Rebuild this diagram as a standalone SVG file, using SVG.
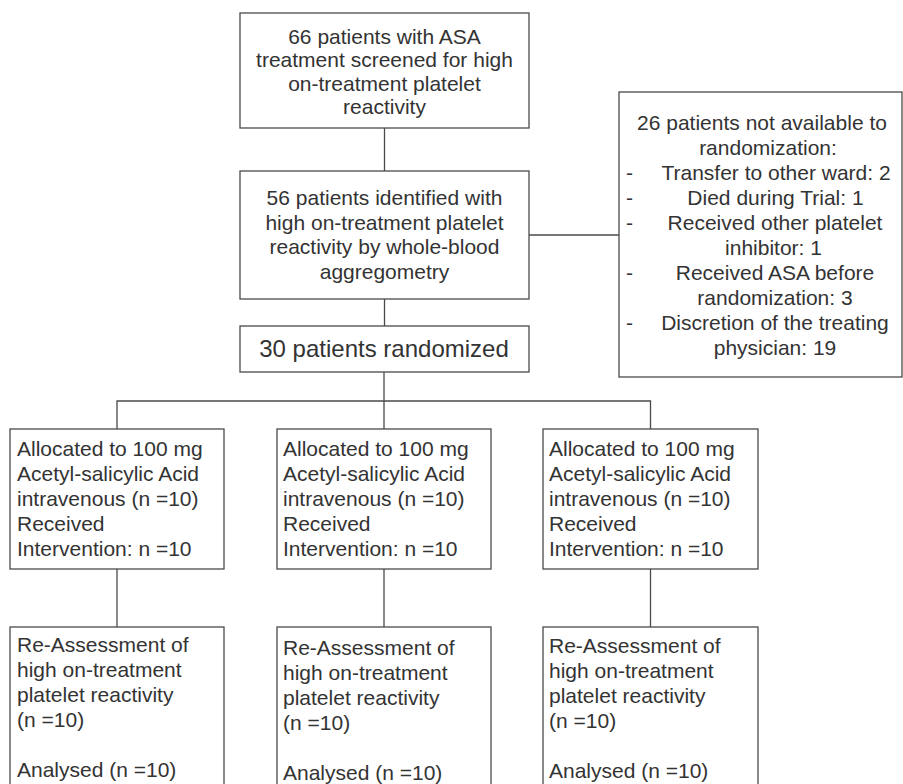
<svg xmlns="http://www.w3.org/2000/svg" width="903" height="784" viewBox="0 0 903 784">
<style>
  .box { fill: #ffffff; stroke: #4a4a4a; stroke-width: 1.3; }
  .ln { fill: none; stroke: #4a4a4a; stroke-width: 1.3; }
  text { font-family: "Liberation Sans", Arial, sans-serif; font-size: 21px; fill: #333333; }
  .c { text-anchor: middle; }
  .big { font-size: 24px; }
</style>
<rect width="903" height="784" fill="#ffffff"/>
<g id="connectors">
  <line class="ln" x1="384.5" y1="128" x2="384.5" y2="171"/>
  <line class="ln" x1="384.5" y1="299" x2="384.5" y2="326"/>
  <line class="ln" x1="529" y1="235" x2="619" y2="235"/>
  <line class="ln" x1="384" y1="372" x2="384" y2="429"/>
  <polyline class="ln" points="117,429 117,401 650.5,401 650.5,429"/>
  <line class="ln" x1="117" y1="569" x2="117" y2="627"/>
  <line class="ln" x1="384" y1="569" x2="384" y2="627"/>
  <line class="ln" x1="650.5" y1="569" x2="650.5" y2="627"/>
</g>
<g id="screened">
  <rect class="box" x="240" y="13" width="289" height="115"/>
  <text class="c" x="384.5" y="43.5">66 patients with ASA</text>
  <text class="c" x="384.5" y="67">treatment screened for high</text>
  <text class="c" x="384.5" y="90.7">on-treatment platelet</text>
  <text class="c" x="384.5" y="114.3">reactivity</text>
</g>
<g id="identified">
  <rect class="box" x="240" y="171" width="289" height="128"/>
  <text class="c" x="384.5" y="205">56 patients identified with</text>
  <text class="c" x="384.5" y="229.5">high on-treatment platelet</text>
  <text class="c" x="384.5" y="254">reactivity by whole-blood</text>
  <text class="c" x="384.5" y="278.5">aggregometry</text>
</g>
<g id="randomized">
  <rect class="box" x="240" y="326" width="289" height="46"/>
  <text class="c big" x="384" y="357">30 patients randomized</text>
</g>
<g id="excluded">
  <rect class="box" x="619" y="92" width="283" height="285"/>
  <text class="c" x="762" y="130">26 patients not available to</text>
  <text class="c" x="768" y="155">randomization:</text>
  <text x="626" y="180">-</text>
  <text class="c" x="776" y="180">Transfer to other ward: 2</text>
  <text x="626" y="205">-</text>
  <text class="c" x="775.5" y="205">Died during Trial: 1</text>
  <text x="626" y="230">-</text>
  <text class="c" x="775" y="230">Received other platelet</text>
  <text class="c" x="773.5" y="255">inhibitor: 1</text>
  <text x="626" y="280">-</text>
  <text class="c" x="775" y="280">Received ASA before</text>
  <text class="c" x="775" y="305">randomization: 3</text>
  <text x="626" y="330">-</text>
  <text class="c" x="775" y="330">Discretion of the treating</text>
  <text class="c" x="775" y="355">physician: 19</text>
</g>
<g id="alloc1">
  <rect class="box" x="10" y="429" width="214" height="140"/>
  <text x="17" y="455.7">Allocated to 100 mg</text>
  <text x="17" y="480.7">Acetyl-salicylic Acid</text>
  <text x="17" y="505.7">intravenous (n =10)</text>
  <text x="17" y="530.7">Received</text>
  <text x="17" y="555.7">Intervention: n =10</text>
</g>
<g id="alloc2">
  <rect class="box" x="277" y="429" width="214" height="140"/>
  <text x="283" y="455.7">Allocated to 100 mg</text>
  <text x="283" y="480.7">Acetyl-salicylic Acid</text>
  <text x="283" y="505.7">intravenous (n =10)</text>
  <text x="283" y="530.7">Received</text>
  <text x="283" y="555.7">Intervention: n =10</text>
</g>
<g id="alloc3">
  <rect class="box" x="543" y="429" width="215" height="140"/>
  <text x="549" y="455.7">Allocated to 100 mg</text>
  <text x="549" y="480.7">Acetyl-salicylic Acid</text>
  <text x="549" y="505.7">intravenous (n =10)</text>
  <text x="549" y="530.7">Received</text>
  <text x="549" y="555.7">Intervention: n =10</text>
</g>
<g id="assess1">
  <rect class="box" x="10" y="627" width="214" height="180"/>
  <text x="17" y="652">Re-Assessment of</text>
  <text x="17" y="677">high on-treatment</text>
  <text x="17" y="702">platelet reactivity</text>
  <text x="17" y="727">(n =10)</text>
  <text x="17" y="777">Analysed (n =10)</text>
</g>
<g id="assess2">
  <rect class="box" x="277" y="627" width="214" height="180"/>
  <text x="283" y="655">Re-Assessment of</text>
  <text x="283" y="680">high on-treatment</text>
  <text x="283" y="705">platelet reactivity</text>
  <text x="283" y="730">(n =10)</text>
  <text x="283" y="780">Analysed (n =10)</text>
</g>
<g id="assess3">
  <rect class="box" x="543" y="627" width="215" height="180"/>
  <text x="549" y="652.5">Re-Assessment of</text>
  <text x="549" y="677.5">high on-treatment</text>
  <text x="549" y="702.5">platelet reactivity</text>
  <text x="549" y="727.5">(n =10)</text>
  <text x="549" y="777.5">Analysed (n =10)</text>
</g>
</svg>
